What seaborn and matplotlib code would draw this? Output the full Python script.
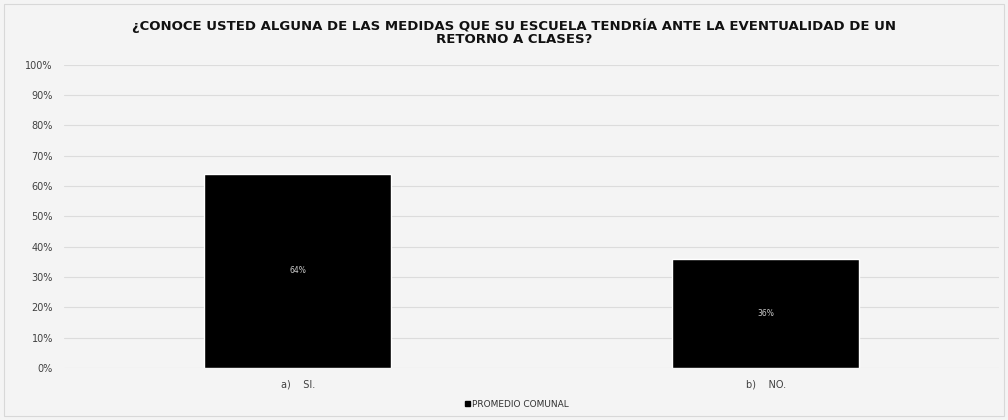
import matplotlib
matplotlib.use("Agg")
import matplotlib.pyplot as plt
import seaborn as sns
import pandas as pd
from matplotlib.patches import Patch
from matplotlib.ticker import PercentFormatter

categories = ["a)    SI.", "b)    NO."]
values = [64, 36]
series_name = "PROMEDIO COMUNAL"
title = "¿CONOCE USTED ALGUNA DE LAS MEDIDAS QUE SU ESCUELA TENDRÍA ANTE LA EVENTUALIDAD DE UN\nRETORNO A CLASES?"

df = pd.DataFrame({"Respuesta": categories, "Valor": values})

sns.set_style("white")
plt.rcParams["font.family"] = ["DejaVu Sans"]

fig = plt.figure(figsize=(10.08, 4.2), dpi=100, facecolor="#f4f4f4")
ax = fig.add_axes([0.0635, 0.124, 0.928, 0.722])
ax.set_facecolor("#f4f4f4")

sns.barplot(data=df, x="Respuesta", y="Valor", color="black", width=0.4,
            saturation=1, ax=ax, zorder=3)

for i, v in enumerate(values):
    ax.text(i, v / 2, f"{v}%", color="#cccccc", ha="center", va="center",
            fontsize=5.5, zorder=4)

ax.set_ylim(0, 100)
ax.set_yticks(range(0, 101, 10))
ax.yaxis.set_major_formatter(PercentFormatter(decimals=0))
ax.grid(axis="y", color="#dcdcdc", linewidth=0.8, zorder=0)
ax.set_xlabel("")
ax.set_ylabel("")
ax.tick_params(axis="both", length=0, labelsize=7, colors="#404040", pad=8)
for s in ax.spines.values():
    s.set_visible(False)

fig.text(0.51, 0.955, title, ha="center", va="top", fontsize=9.5,
         fontweight="bold", linespacing=1.0, color="#111111")

fig.legend(handles=[Patch(color="black", label=series_name)],
           loc="center", bbox_to_anchor=(0.513, 0.038), frameon=False,
           fontsize=6.5, handlelength=0.5, handleheight=0.5, handletextpad=0.3,
           labelcolor="#303030")

border = plt.Rectangle((0.004, 0.01), 0.992, 0.98, transform=fig.transFigure,
                       fill=False, edgecolor="#d8d8d8", linewidth=0.8)
fig.add_artist(border)

fig.savefig("out.png", dpi=100, facecolor=fig.get_facecolor())
